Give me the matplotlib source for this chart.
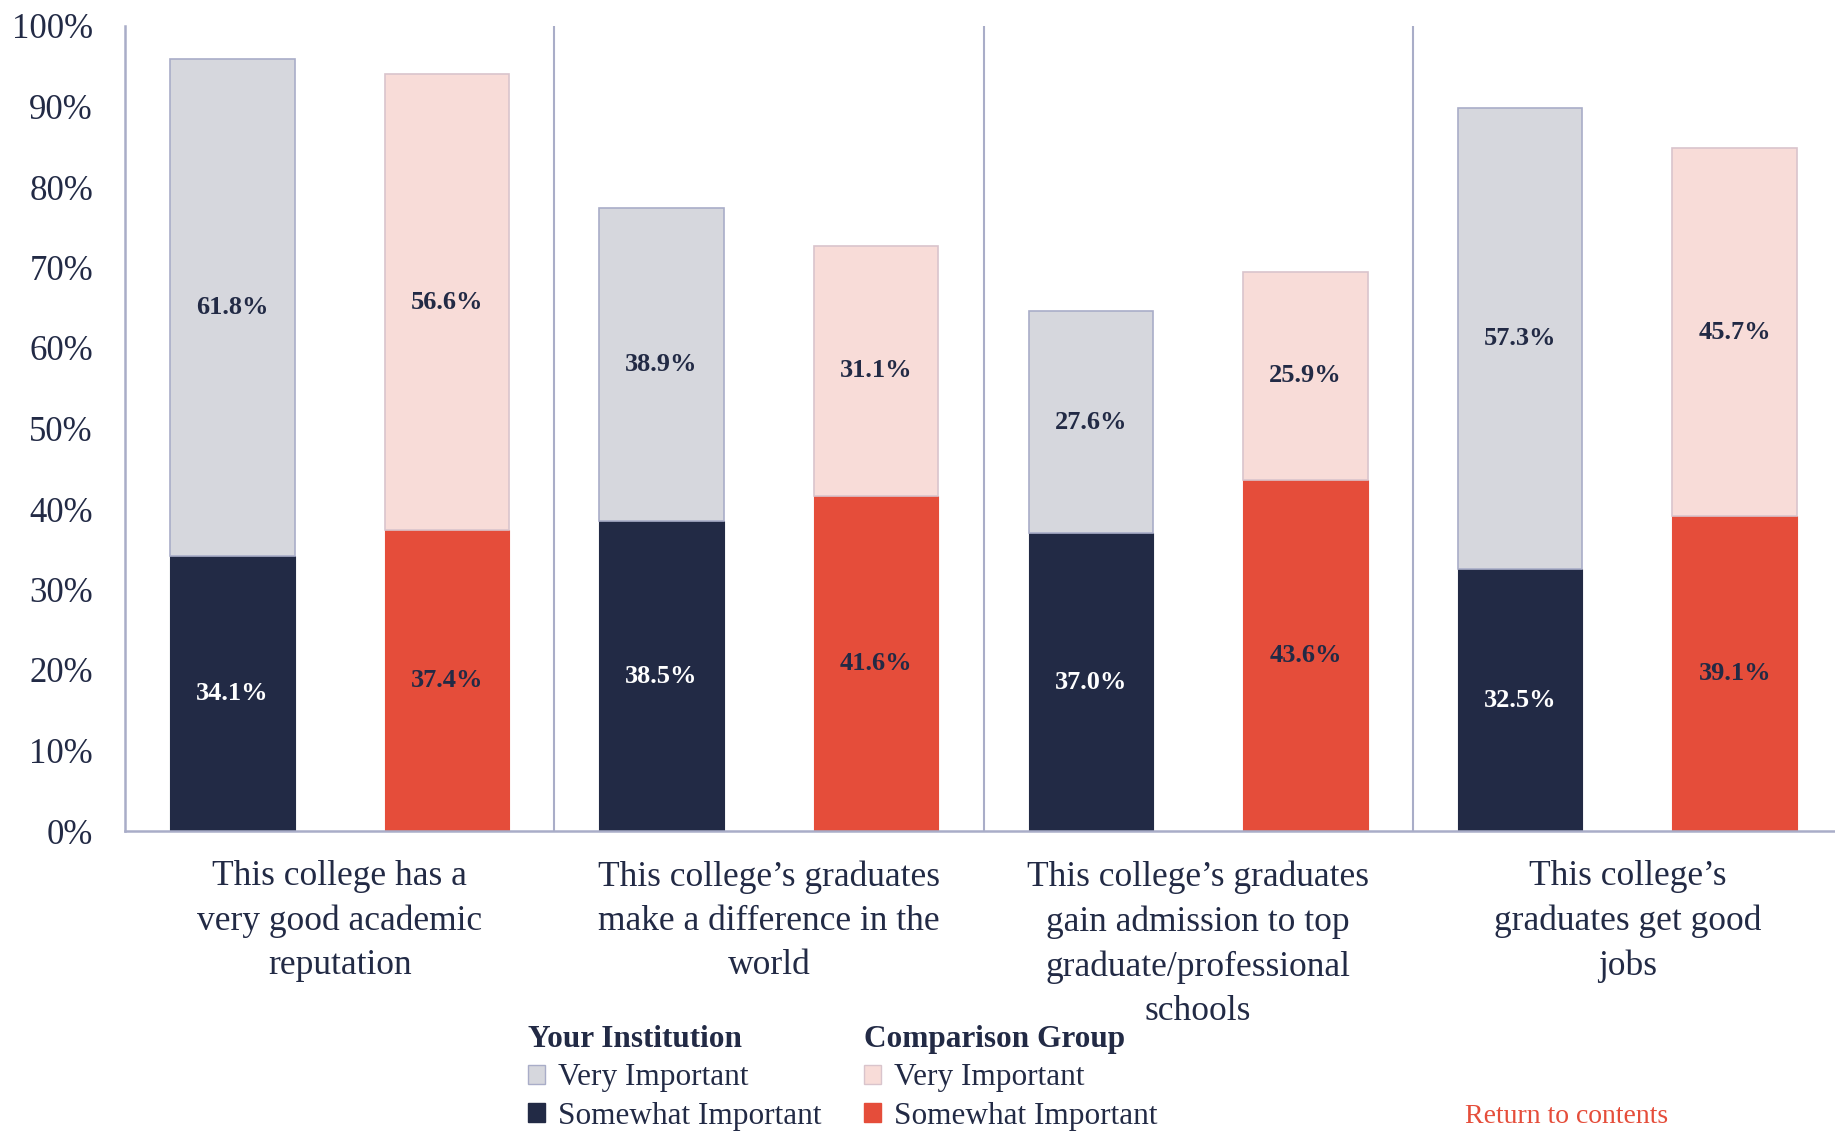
import matplotlib.pyplot as plt
import numpy as np

# Data
categories = [
    "This college has a\nvery good academic\nreputation",
    "This college\u2019s graduates\nmake a difference in the\nworld",
    "This college\u2019s graduates\ngain admission to top\ngraduate/professional\nschools",
    "This college\u2019s\ngraduates get good\njobs",
]
your_somewhat = [34.1, 38.5, 37.0, 32.5]
your_very = [61.8, 38.9, 27.6, 57.3]
comp_somewhat = [37.4, 41.6, 43.6, 39.1]
comp_very = [56.6, 31.1, 25.9, 45.7]
y_ticks = [0, 10, 20, 30, 40, 50, 60, 70, 80, 90, 100]

NAVY = "#222a45"
RED = "#e54d3a"
GREY = "#d6d7dd"
PINK = "#f8dcd8"
EDGE = "#a9adc8"

plt.rcParams["font.family"] = ["Liberation Serif", "DejaVu Serif"]

fig = plt.figure(figsize=(18.35, 11.31), dpi=100)
ax = fig.add_axes([125 / 1835, 1 - 831 / 1131, (1842 - 125) / 1835, (831 - 26) / 1131])

x = np.arange(len(categories))
width = 0.29
off = 0.25

b1 = ax.bar(x - off, your_somewhat, width, color=NAVY, edgecolor=NAVY, linewidth=0.8)
b2 = ax.bar(x - off, your_very, width, bottom=your_somewhat, color=GREY, edgecolor=EDGE, linewidth=1.2)
b3 = ax.bar(x + off, comp_somewhat, width, color=RED, edgecolor=RED, linewidth=0.8)
b4 = ax.bar(x + off, comp_very, width, bottom=comp_somewhat, color=PINK, edgecolor="#d9c4cc", linewidth=1.2)

for bars, vals, col in [(b1, your_somewhat, "white"), (b2, your_very, NAVY),
                        (b3, comp_somewhat, NAVY), (b4, comp_very, NAVY)]:
    ax.bar_label(bars, labels=[f"{v:.1f}%" for v in vals], label_type="center",
                 color=col, fontsize=19, fontweight="bold")

ax.set_xlim(-0.5, len(categories) - 0.5)
ax.set_ylim(0, 100)
ax.set_yticks(y_ticks)
ax.set_yticklabels([f"{t}%" for t in y_ticks], fontsize=25, color=NAVY)
ax.tick_params(axis="y", length=0, pad=23)
ax.set_xticks(x)
ax.set_xticklabels(categories, fontsize=25.5, color=NAVY, linespacing=1.45, va="top")
ax.tick_params(axis="x", length=0, pad=21)

for s in ["top", "right"]:
    ax.spines[s].set_visible(False)
for s in ["left", "bottom"]:
    ax.spines[s].set_color(EDGE)
    ax.spines[s].set_linewidth(1.8)
for sep in x[:-1] + 0.5:
    ax.axvline(sep, color=EDGE, linewidth=1.5, zorder=0)

# Legends
h_your = [plt.Rectangle((0, 0), 1, 1, facecolor=GREY, edgecolor=EDGE),
          plt.Rectangle((0, 0), 1, 1, facecolor=NAVY, edgecolor=NAVY)]
h_comp = [plt.Rectangle((0, 0), 1, 1, facecolor=PINK, edgecolor="#d9c4cc"),
          plt.Rectangle((0, 0), 1, 1, facecolor=RED, edgecolor=RED)]
labels = ["Very Important", "Somewhat Important"]

for handles, title, xpos in [(h_your, "Your Institution", 528 / 1835),
                             (h_comp, "Comparison Group", 864 / 1835)]:
    leg = fig.legend(handles, labels, title=title, loc="upper left",
                     bbox_to_anchor=(xpos, 1 - 1025 / 1131), frameon=False,
                     fontsize=22.5, title_fontsize=22.5, alignment="left",
                     handlelength=0.55, handleheight=0.55, handletextpad=0.4,
                     labelspacing=0.3, borderpad=0, borderaxespad=0)
    leg.get_title().set_fontweight("bold")
    leg.get_title().set_color(NAVY)
    for t in leg.get_texts():
        t.set_color(NAVY)

fig.text(1465 / 1835, 0.002, "Return to contents", color=RED,
         fontsize=20, va="bottom", ha="left")

fig.savefig("out.png", dpi=100)
